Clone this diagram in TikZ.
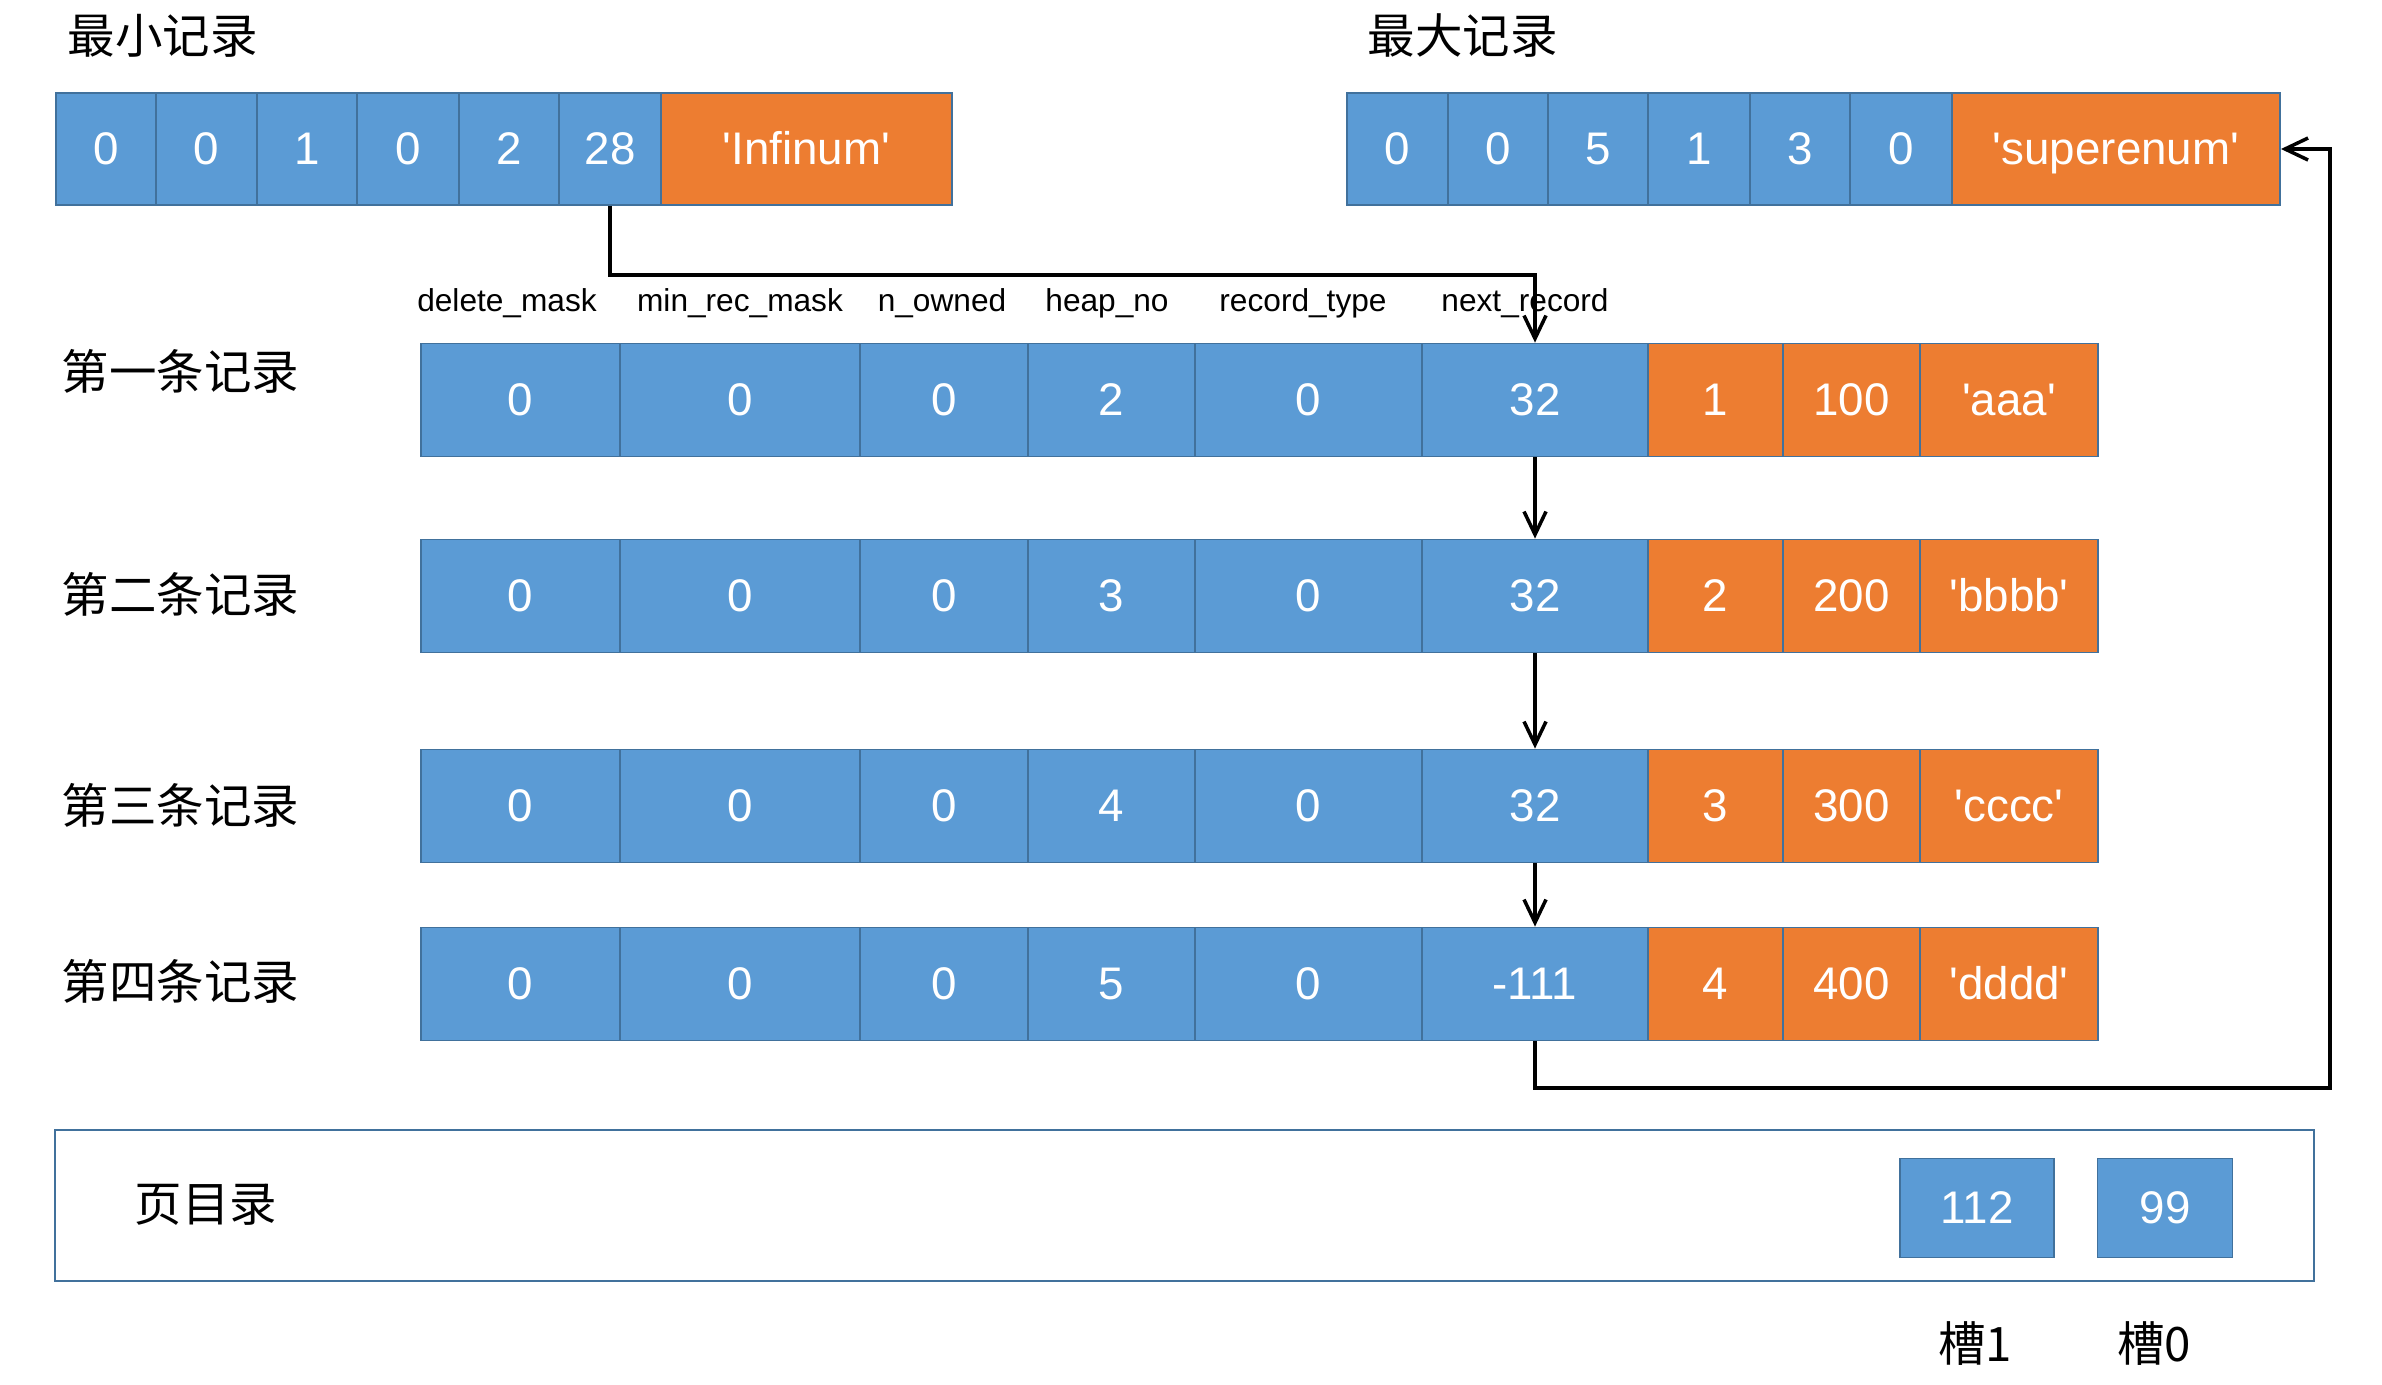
\documentclass[tikz,border=0pt]{standalone}
\usepackage{fontspec}
\setmainfont{Liberation Sans}
\newfontfamily\cjk{Noto Sans CJK SC}
\usetikzlibrary{arrows.meta}
\definecolor{header}{HTML}{5B9BD5}
\definecolor{payload}{HTML}{ED7D31}
\definecolor{frame}{HTML}{41719C}
\newcommand{\cellfont}{\fontsize{13}{15}\selectfont}
\newcommand{\fieldfont}{\fontsize{9}{11}\selectfont}
\newcommand{\titlefont}{\cjk\fontsize{13.5}{16}\selectfont}
\newcommand{\q}[1]{\textquotesingle#1\textquotesingle}

\begin{document}
\begin{tikzpicture}[x=0.01cm,y=-0.01cm,line width=0.5pt,
  cell/.style={draw=frame,text=white,font=\cellfont,inner sep=0pt,text height=0.9em,text depth=0pt},
  hcell/.style={cell,fill=header},
  pcell/.style={cell,fill=payload},
  title/.style={anchor=west,font=\titlefont,inner sep=0pt},
  link/.style={-{Straight Barb[length=2.3mm,width=2.2mm]},line width=1pt}]
\useasboundingbox (0,0) rectangle (2382,1384);

\node[title] (mintitle) at (67,36) {最小记录};
\node[title] (maxtitle) at (1367,36) {最大记录};

\foreach \l/\r/\v [count=\k] in {56/156/0,156/257/0,257/357/1,357/459/0,459/559/2,559/661/28} {
  \pgfmathsetmacro\w{(\r-\l)/100}
  \node[hcell,minimum width=\w cm,minimum height=1.12cm] (min\k) at ({(\l+\r)/2},149) {\v};
}
\node[pcell,minimum width=2.91cm,minimum height=1.12cm] (minstr) at (806.5,149) {\q{Infinum}};

\foreach \l/\r/\v [count=\k] in {1347/1448/0,1448/1548/0,1548/1648/5,1648/1750/1,1750/1850/3,1850/1952/0} {
  \pgfmathsetmacro\w{(\r-\l)/100}
  \node[hcell,minimum width=\w cm,minimum height=1.12cm] (max\k) at ({(\l+\r)/2},149) {\v};
}
\node[pcell,minimum width=3.28cm,minimum height=1.12cm] (maxstr) at (2116,149) {\q{superenum}};

\foreach \x/\t/\n in {507/delete\_mask/del,740/min\_rec\_mask/min,942/n\_owned/own,
  1107/heap\_no/heap,1303/record\_type/type,1525/next\_record/next}
  \node[font=\fieldfont] (field-\n) at (\x,303) {\t};

\foreach \i/\yc/\ly/\hn/\nx/\no/\num/\str in {1/400/371/2/32/1/100/aaa,2/596/594/3/32/2/200/bbbb,
  3/806/805/4/32/3/300/cccc,4/984/981/5/-111/4/400/dddd} {
  \node[title] (label\i) at (61,\ly) {\ifcase\i\or 第一条记录\or 第二条记录\or 第三条记录\or 第四条记录\fi};
  \foreach \l/\r/\v [count=\k] in {421/620/0,620/860/0,860/1028/0,1028/1195/\hn,1195/1422/0,1422/1648/\nx} {
    \pgfmathsetmacro\w{(\r-\l)/100}
    \node[hcell,minimum width=\w cm,minimum height=1.13cm] (rec\i-\k) at ({(\l+\r)/2},\yc) {\v};
  }
  \foreach \l/\r/\v [count=\k from 7] in {1648/1783/\no,1783/1920/\num,1920/2098/\q{\str}} {
    \pgfmathsetmacro\w{(\r-\l)/100}
    \node[pcell,minimum width=\w cm,minimum height=1.13cm] (rec\i-\k) at ({(\l+\r)/2},\yc) {\v};
  }
}

\coordinate (turn) at (0,275);
\draw[link] (min6.south) |- (turn -| rec1-6.north) -- (rec1-6.north);
\foreach \i [evaluate=\i as \j using int(\i+1)] in {1,2,3}
  \draw[link] (rec\i-6.south) -- (rec\j-6.north);
\coordinate (back) at (2330,1088);
\draw[link] (rec4-6.south) |- (back) |- (maxstr.east);

\node[draw=frame,minimum width=22.57cm,minimum height=1.51cm,inner sep=0pt] (pagedir) at (1184.5,1205.5) {};
\node[title] (pagetitle) at (134,1205) {页目录};
\node[hcell,minimum width=1.54cm,minimum height=0.99cm] (slot1) at (1977,1208) {112};
\node[hcell,minimum width=1.35cm,minimum height=0.99cm] (slot0) at (2165,1208) {99};
\node[font=\titlefont] (slot1label) at (1975,1344) {槽1};
\node[font=\titlefont] (slot0label) at (2154,1344) {槽0};
\end{tikzpicture}
\end{document}
